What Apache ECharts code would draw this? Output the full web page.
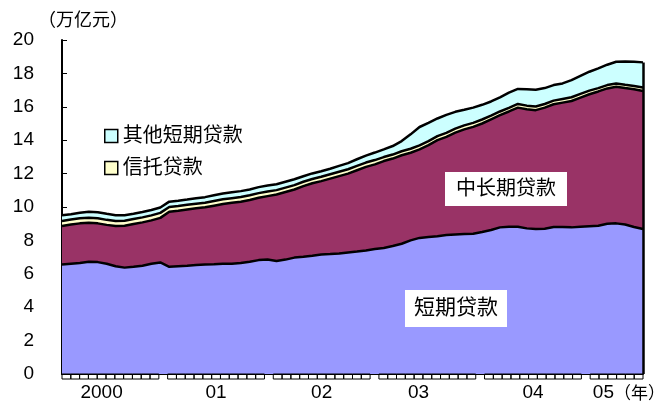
<!DOCTYPE html>
<html>
<head>
<meta charset="utf-8">
<script src="https://cdn.jsdelivr.net/npm/echarts@6/dist/echarts.min.js"></script>
<style>
html,body{margin:0;padding:0;background:#fff;}
#chart{width:659px;height:403px;}
</style>
</head>
<body>
<div id="chart"></div>
<script>
// ---- data ----
const years = ['2000','2001','2002','2003','2004','2005'];
const monthsPerYear = [12,12,12,12,12,6];
const yearLabels = {'2000-05':'2000','2001-06':'01','2002-06':'02','2003-05':'03','2004-06':'04','2005-02':'05'};

// 短期贷款 (万亿元)
const shortTerm = [
  6.55,6.60,6.65,6.72,6.70,6.60,6.45,6.37,6.42,6.48,6.60,6.68,
  6.42,6.45,6.48,6.52,6.55,6.57,6.60,6.60,6.65,6.72,6.82,6.85,
  6.77,6.85,6.97,7.02,7.08,7.15,7.18,7.22,7.28,7.33,7.40,7.48,
  7.55,7.66,7.80,8.00,8.15,8.20,8.25,8.32,8.35,8.38,8.40,8.50,
  8.62,8.78,8.82,8.82,8.72,8.68,8.70,8.80,8.80,8.78,8.82,8.85,
  8.88,9.00,9.02,8.95,8.80,8.68
];
// 中长期贷款
const midLongTerm = [
  2.31,2.35,2.37,2.34,2.32,2.33,2.41,2.51,2.56,2.60,2.60,2.67,
  3.30,3.33,3.37,3.40,3.43,3.51,3.58,3.65,3.67,3.70,3.73,3.80,
  3.98,4.05,4.08,4.23,4.34,4.40,4.52,4.63,4.72,4.87,5.00,5.07,
  5.20,5.24,5.30,5.25,5.30,5.50,5.75,5.88,6.10,6.27,6.40,6.50,
  6.63,6.72,6.90,7.13,7.13,7.12,7.25,7.35,7.45,7.57,7.73,7.90,
  8.04,8.10,8.18,8.17,8.25,8.27
];
// 信托贷款
const trustLoans = [
  0.30,0.30,0.30,0.30,0.30,0.30,0.30,0.30,0.30,0.30,0.30,0.30,
  0.28,0.28,0.28,0.28,0.28,0.28,0.28,0.28,0.28,0.28,0.28,0.28,
  0.26,0.26,0.26,0.26,0.26,0.26,0.26,0.26,0.26,0.26,0.26,0.26,
  0.24,0.24,0.24,0.24,0.24,0.24,0.24,0.24,0.24,0.24,0.24,0.24,
  0.22,0.22,0.22,0.22,0.22,0.22,0.22,0.22,0.22,0.22,0.22,0.22,
  0.20,0.20,0.20,0.20,0.20,0.20
];
// 其他短期贷款
const otherShort = [
  0.34,0.32,0.33,0.35,0.36,0.36,0.35,0.33,0.32,0.32,0.32,0.32,
  0.32,0.32,0.32,0.33,0.33,0.34,0.35,0.35,0.35,0.35,0.36,0.36,
  0.35,0.35,0.35,0.33,0.33,0.33,0.33,0.35,0.37,0.40,0.42,0.45,
  0.46,0.51,0.61,0.86,1.10,1.10,1.06,1.08,1.01,0.93,0.91,0.88,
  0.85,0.85,0.91,0.90,0.98,1.00,0.95,0.93,0.93,1.03,1.08,1.13,
  1.18,1.22,1.30,1.40,1.45,1.51
];

// ---- build ----
const months = [];
years.forEach((y, k) => {
  for (let m = 1; m <= monthsPerYear[k]; m++) months.push(y + '-' + String(m).padStart(2, '0'));
});
const boxData = months.map((mo, i) => mo.endsWith('-12') ? null : [i, 0]).filter(d => d);
const last = months.length - 1;
const totalLast = shortTerm[last] + midLongTerm[last] + trustLoans[last] + otherShort[last];

const FONT = '"Liberation Sans", "Noto Sans CJK JP", sans-serif';
const chart = echarts.init(document.getElementById('chart'), null, {renderer: 'canvas'});

const lineStyle = {color: '#000', width: 2.5};
function areaSeries(name, data, color) {
  return {
    name, type: 'line', stack: 'total', data,
    xAxisIndex: 0, yAxisIndex: 0,
    symbol: 'none', smooth: false,
    lineStyle, itemStyle: {color, borderColor: '#000', borderWidth: 1.5},
    areaStyle: {color, opacity: 1},
    emphasis: {disabled: true}
  };
}

const other = areaSeries('其他短期贷款', otherShort, '#CCFFFF');
other.markLine = {
  silent: true, symbol: 'none',
  lineStyle: {color: '#000', width: 2.5, type: 'solid'},
  label: {show: false},
  data: [[{coord: [last, 0]}, {coord: [last, totalLast]}]]
};

chart.setOption({
  animation: false,
  backgroundColor: '#fff',
  textStyle: {fontFamily: FONT},
  grid: {left: 62, right: 16, top: 40, bottom: 29},
  legend: {
    data: ['其他短期贷款', '信托贷款'],
    orient: 'vertical', left: 99, top: 121,
    itemWidth: 13, itemHeight: 13, itemGap: 12,
    icon: 'rect',
    itemStyle: {borderColor: '#000', borderWidth: 1.5},
    textStyle: {fontSize: 20, color: '#000', fontFamily: FONT},
    selectedMode: false
  },
  xAxis: [
    {
      type: 'category', data: months, boundaryGap: false,
      axisLine: {show: true, lineStyle: {color: '#000', width: 2}},
      axisTick: {show: false}, axisLabel: {show: false}, splitLine: {show: false}
    },
    {
      type: 'category', data: months, boundaryGap: true, position: 'bottom',
      axisLine: {show: false}, axisTick: {show: false}, splitLine: {show: false},
      axisLabel: {
        interval: 0, margin: 9, fontSize: 19, color: '#000', fontFamily: FONT,
        formatter: v => yearLabels[v] || ''
      }
    }
  ],
  yAxis: {
    type: 'value', min: 0, max: 20, interval: 2,
    axisLine: {show: true, lineStyle: {color: '#000', width: 2}},
    axisTick: {show: true, inside: true, length: 5, lineStyle: {color: '#000', width: 1}},
    axisLabel: {fontSize: 19, color: '#000', margin: 28, fontFamily: FONT},
    splitLine: {show: false}
  },
  series: [
    areaSeries('短期贷款', shortTerm, '#9999FF'),
    areaSeries('中长期贷款', midLongTerm, '#993366'),
    areaSeries('信托贷款', trustLoans, '#FFFFCC'),
    other,
    {
      type: 'custom', name: 'monthBoxes', xAxisIndex: 1, yAxisIndex: 0,
      data: boxData, silent: true, clip: false, z: 10,
      renderItem: function (params, api) {
        const p = api.coord([api.value(0), 0]);
        const w = api.size([1, 0])[0];
        return {
          type: 'rect',
          shape: {x: p[0] - w / 2, y: p[1], width: w, height: 5},
          style: {fill: null, stroke: '#000', lineWidth: 1}
        };
      }
    }
  ],
  graphic: [
    {type: 'text', z: 100, left: 38, top: 12, style: {text: '（万亿元）', font: '18px ' + FONT, fill: '#000'}},
    {type: 'text', z: 100, left: 614, top: 386, style: {text: '（年）', font: '17px ' + FONT, fill: '#000'}},
    {type: 'text', z: 100, left: 445, top: 172, style: {text: '中长期贷款', font: '20px ' + FONT, fill: '#000', backgroundColor: '#fff', padding: [7, 11]}},
    {type: 'text', z: 100, left: 405, top: 290, style: {text: '短期贷款', font: '21px ' + FONT, fill: '#000', backgroundColor: '#fff', padding: [8, 9]}}
  ]
});
</script>
</body>
</html>
